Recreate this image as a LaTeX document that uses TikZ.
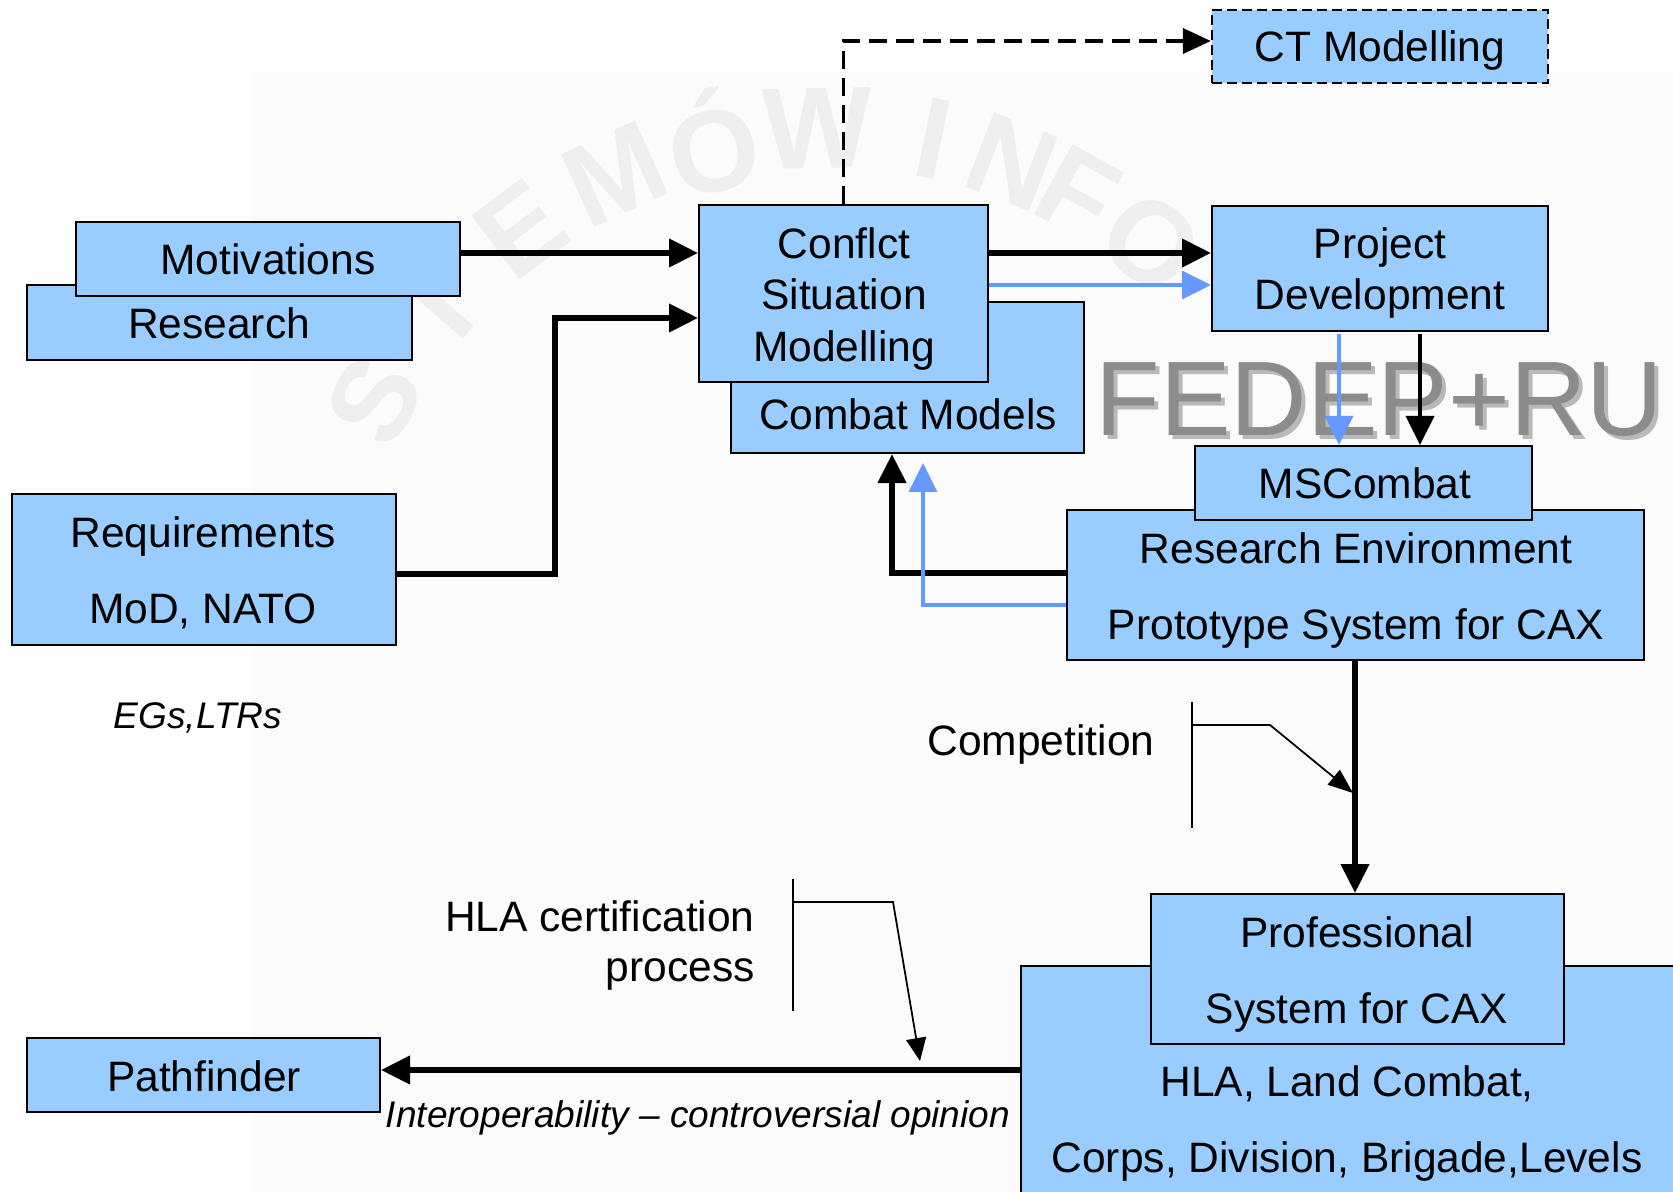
\documentclass[tikz,border=0pt]{standalone}
\usepackage{fontspec}
\setmainfont{Liberation Sans}
\usetikzlibrary{arrows.meta,fit}
\definecolor{boxblue}{RGB}{153,204,255}
\definecolor{arrblue}{RGB}{102,153,255}
\definecolor{bggray}{RGB}{251,251,251}
\definecolor{wmgray}{RGB}{239,239,239}
\definecolor{fedgray}{RGB}{140,140,140}
\definecolor{fedshadow}{RGB}{185,185,185}
\begin{document}
\begin{tikzpicture}[x=0.02cm,y=-0.02cm,
  box/.style={draw=black,fill=boxblue,line width=1.15pt,inner sep=0pt,rectangle},
  txt/.style={font=\fontsize{24.2}{29}\selectfont,inner sep=0pt,anchor=base},
  itxt/.style={font=\fontsize{21.1}{25}\selectfont\itshape,inner sep=0pt,anchor=base},
  wm/.style={font=\fontsize{66}{70}\selectfont\bfseries,text=wmgray,inner sep=0pt},
  bigarr/.style={line width=3.3pt,-{Triangle[length=0.58cm,width=0.55cm]}},
  bluearr/.style={draw=arrblue,line width=2.8pt,-{Triangle[length=0.58cm,width=0.55cm,fill=arrblue]}},
  midarr/.style={line width=2.2pt,-{Triangle[length=0.58cm,width=0.56cm]}},
  thin/.style={line width=1pt},
  thinarr/.style={line width=1pt,-{Triangle[length=0.5cm,width=0.38cm]}},
  fedtxt/.style={font=\fontsize{60.3}{70}\selectfont,inner sep=0pt,anchor=base west}
]
\clip (0,0) rectangle (1673,1192);
\fill[white] (0,0) rectangle (1673,1192);
\fill[bggray] (252,71) rectangle (1673,1192);

% faint watermark (upper arc of a seal)
\begin{scope}[shift={(828,642)},x=0.02cm,y=0.02cm]
\foreach \ch/\ang [count=\i] in {S/152,T/139.2,E/126.7,M/114.5,Ó/103,W/91.2,I/78.2,N/69,F/60.9,O/50.9} {
  \node[wm,rotate=\ang-90] (wm\i) at (\ang:514) {\ch};
}
\end{scope}

% boxes
\node[box,fit={(27,285) (412,360)}] (res) {};
\node[box,fit={(76,222) (460,296)}] (mot) {};
\node[box,fit={(731,302) (1084,453)}] (cm) {};
\node[box,fit={(699,205) (988,382)}] (conf) {};
\node[box,line width=1.3pt,dash pattern=on 0.2cm off 0.1cm,fit={(1212,10) (1548,83)}] (ct) {};
\node[box,fit={(1212,206) (1548,331)}] (proj) {};
\node[box,fit={(1067,510) (1644,660)}] (renv) {};
\node[box,fit={(1195,446) (1532,520)}] (msc) {};
\node[box,fit={(12,494) (396,645)}] (req) {};
\node[box,fit={(27,1038) (380,1112)}] (path) {};
\node[box,fit={(1021,966) (1700,1215)}] (big) {};
\node[box,fit={(1151,894) (1564,1044)}] (prof) {};

% texts
\node[txt] (tmot) at (268,275) {Motivations};
\node[txt] (tres) at (219,339) {Research};
\node[txt] (tconf1) at (844,259) {Conflct};
\node[txt] (tconf2) at (844,310) {Situation};
\node[txt] (tconf3) at (844,362) {Modelling};
\node[txt] (tcm) at (908,430) {Combat Models};
\node[txt] (tct) at (1380,62) {CT Modelling};
\node[txt] (tproj1) at (1380,259) {Project};
\node[txt] (tproj2) at (1380,310) {Development};
\node[txt] (tmsc) at (1365,499) {MSCombat};
\node[txt] (trenv1) at (1356,563) {Research Environment};
\node[txt] (trenv2) at (1356,639) {Prototype System for CAX};
\node[txt] (treq1) at (203,547) {Requirements};
\node[txt] (treq2) at (203,623) {MoD, NATO};
\node[itxt] (tegs) at (198,728) {EGs,LTRs};
\node[txt] (tcomp) at (1041,755) {Competition};
\node[txt,anchor=base east] (thla1) at (755,931) {HLA certification};
\node[txt,anchor=base east] (thla2) at (755,981) {process};
\node[txt] (tprof1) at (1357,947) {Professional};
\node[txt] (tprof2) at (1357,1023) {System for CAX};
\node[txt] (tbig1) at (1347,1096) {HLA, Land Combat,};
\node[txt] (tbig2) at (1347,1172) {Corps, Division, Brigade,Levels};
\node[txt] (tpath) at (204,1091) {Pathfinder};
\node[itxt] (tinter) at (698,1127) {Interoperability -- controversial opinion};

% FEDEP+RU
\node[fedtxt,text=fedshadow] (fedS) at (1099,440) {FEDEP+RU};
\node[fedtxt,text=fedgray] (fed) at (1095,436) {FEDEP+RU};

% connectors
\draw[bigarr] (mot.east |- 0,253) -- (conf.west |- 0,253);
\draw[bigarr] (req.east |- 0,574) -| (555,318) -- (conf.west |- 0,318);
\draw[line width=2.2pt,dash pattern=on 0.36cm off 0.18cm,-{Triangle[length=0.56cm,width=0.5cm]}]
  (conf.north) |- (ct.west |- 0,41);
\draw[bigarr] (conf.east |- 0,253) -- (proj.west |- 0,253);
\draw[bluearr] (conf.east |- 0,285) -- (proj.west |- 0,285);
\draw[bluearr] (1339,334) -- (msc.north -| 1339,0);
\draw[midarr] (1420,334) -- (msc.north -| 1420,0);
\draw[bigarr] (renv.west |- 0,573) -| (cm.south -| 892,0);
\draw[bluearr] (renv.west |- 0,605) -| (923,463);
\draw[bigarr] (renv.south -| 1355,0) -- (prof.north -| 1355,0);
\draw[bigarr] (big.west |- 0,1070) -- (path.east |- 0,1070);

% competition bracket
\coordinate (cb1) at (1192,702);
\coordinate (cb2) at (1192,828);
\coordinate (cb3) at (1192,725);
\coordinate (cb4) at (1270,725);
\coordinate (cb5) at (1353,793);
\draw[thin] (cb1) -- (cb2);
\draw[thinarr] (cb3) -- (cb4) -- (cb5);

% HLA bracket
\coordinate (hb1) at (793,879);
\coordinate (hb2) at (793,1011);
\coordinate (hb3) at (793,902);
\coordinate (hb4) at (893,902);
\coordinate (hb5) at (920,1061);
\draw[thin] (hb1) -- (hb2);
\draw[line width=1pt,-{Triangle[length=0.46cm,width=0.4cm]}] (hb3) -- (hb4) -- (hb5);
\end{tikzpicture}
\end{document}
